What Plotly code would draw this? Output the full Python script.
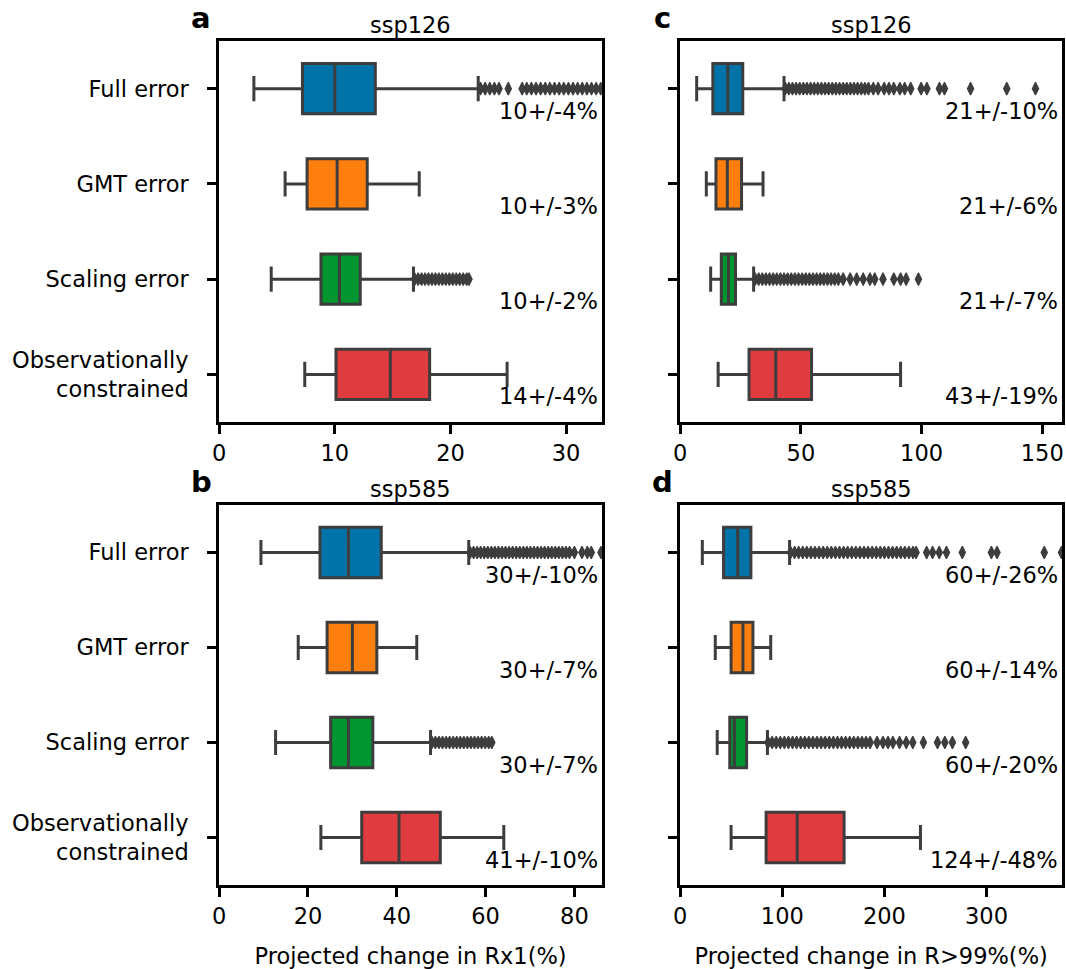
import plotly.graph_objects as go

# ---------------- data ----------------
categories = ["Full error", "GMT error", "Scaling error", "Observationally<br>constrained"]
box_colors = ["#0173a8", "#ff7f0e", "#01962f", "#e03b3e"]

# panel a : ssp126, Rx1
a_low = [3.0, 5.7, 4.5, 7.4]
a_q1 = [7.2, 7.6, 8.8, 10.1]
a_med = [10.0, 10.2, 10.4, 14.8]
a_q3 = [13.5, 12.8, 12.2, 18.2]
a_high = [22.4, 17.3, 16.8, 24.9]
a_labels = ["10+/-4%", "10+/-3%", "10+/-2%", "14+/-4%"]
a_out_full = [22.6, 23.0, 23.4, 23.8, 24.2, 25.0, 26.2, 26.6, 27.0, 27.4, 27.8, 28.2,
              28.6, 29.0, 29.4, 29.8, 30.2, 30.6, 31.0, 31.4, 31.8, 32.2, 32.6, 33.0]
a_out_scal = [16.9, 17.2, 17.5, 17.8, 18.1, 18.4, 18.7, 19.0, 19.3, 19.6, 19.9, 20.2,
              20.5, 20.8, 21.1, 21.4, 21.6]

# panel b : ssp585, Rx1
b_low = [9.4, 17.8, 12.7, 22.9]
b_q1 = [22.7, 24.3, 25.1, 32.1]
b_med = [29.1, 30.0, 29.1, 40.5]
b_q3 = [36.5, 35.5, 34.6, 49.8]
b_high = [56.2, 44.5, 47.6, 64.1]
b_labels = ["30+/-10%", "30+/-7%", "30+/-7%", "41+/-10%"]
b_out_full = [56.5, 57.3, 58.1, 58.9, 59.7, 60.5, 61.3, 62.1, 62.9, 63.7, 64.5, 65.3,
              66.1, 66.9, 67.7, 68.5, 69.3, 70.1, 70.9, 71.7, 72.5, 73.3, 74.1, 74.9,
              75.7, 76.5, 77.3, 78.1, 78.9, 80.0, 81.7, 82.9, 83.8, 86.0]
b_out_scal = [47.9, 48.7, 49.5, 50.3, 51.1, 51.9, 52.7, 53.5, 54.3, 55.1, 55.9, 56.7,
              57.5, 58.3, 59.1, 59.9, 60.7, 61.4]

# panel c : ssp126, R>99%
c_low = [6.8, 10.8, 12.6, 15.7]
c_q1 = [13.5, 14.8, 17.0, 28.5]
c_med = [19.7, 19.5, 20.0, 39.6]
c_q3 = [25.9, 25.4, 22.9, 54.4]
c_high = [43.0, 34.3, 30.4, 91.3]
c_labels = ["21+/-10%", "21+/-6%", "21+/-7%", "43+/-19%"]
c_out_full = [43.5, 45.0, 46.5, 48.0, 49.5, 51.0, 52.5, 54.0, 55.5, 57.0, 58.5, 60.0,
              61.5, 63.0, 64.5, 66.0, 67.5, 69.0, 70.5, 72.0, 73.5, 75.0, 76.5, 78.0,
              80.0, 82.0, 84.5, 86.5, 88.5, 91.0, 93.0, 95.5, 99.8, 102.2, 107.4, 109.5,
              120.3, 135.3, 147.2]
c_out_scal = [31.0, 32.5, 34.0, 35.5, 37.0, 38.5, 40.0, 41.5, 43.0, 44.5, 46.0, 47.5,
              49.0, 50.5, 52.0, 53.5, 55.0, 56.5, 58.0, 59.5, 61.0, 62.5, 64.0, 65.5,
              67.5, 70.4, 73.1, 75.8, 78.6, 80.6, 84.0, 88.5, 91.3, 93.6, 98.7]

# panel d : ssp585, R>99%
d_low = [21.6, 34.3, 36.2, 49.8]
d_q1 = [42.4, 49.8, 48.5, 84.1]
d_med = [56.3, 61.4, 53.0, 114.6]
d_q3 = [69.2, 71.2, 65.0, 160.5]
d_high = [107.1, 88.6, 85.4, 235.3]
d_labels = ["60+/-26%", "60+/-14%", "60+/-20%", "124+/-48%"]
d_out_full = [108, 112, 116, 120, 124, 128, 132, 136, 140, 144, 148, 152, 156, 160,
              164, 168, 172, 176, 180, 184, 188, 192, 196, 200, 204, 208, 212, 216,
              220, 224, 228, 231, 241.4, 247.2, 253.7, 260.8, 276.3, 304.8, 310.3,
              356.6, 373.5]
d_out_scal = [86, 90, 94, 98, 102, 106, 110, 114, 118, 122, 126, 130, 134, 138, 142,
              146, 150, 154, 158, 162, 166, 170, 174, 178, 182, 186, 192.8, 198.6,
              203.5, 208.3, 214.8, 221.4, 227.8, 238.2, 252.0, 259.2, 266.6, 279.6]

panels = [
    dict(ax="", letter="a", title="ssp126", low=a_low, q1=a_q1, med=a_med, q3=a_q3, high=a_high,
         labels=a_labels, out_full=a_out_full, out_scal=a_out_scal, xmax=33.1, ticks=[0, 10, 20, 30],
         xdom=[214, 600], ydom=[41, 422], xtitle=None),
    dict(ax="2", letter="c", title="ssp126", low=c_low, q1=c_q1, med=c_med, q3=c_q3, high=c_high,
         labels=c_labels, out_full=c_out_full, out_scal=c_out_scal, xmax=158.2, ticks=[0, 50, 100, 150],
         xdom=[679, 1064], ydom=[41, 422], xtitle=None),
    dict(ax="3", letter="b", title="ssp585", low=b_low, q1=b_q1, med=b_med, q3=b_q3, high=b_high,
         labels=b_labels, out_full=b_out_full, out_scal=b_out_scal, xmax=86.2, ticks=[0, 20, 40, 60, 80],
         xdom=[214, 600], ydom=[505, 885], xtitle="Projected change in Rx1(%)"),
    dict(ax="4", letter="d", title="ssp585", low=d_low, q1=d_q1, med=d_med, q3=d_q3, high=d_high,
         labels=d_labels, out_full=d_out_full, out_scal=d_out_scal, xmax=374, ticks=[0, 100, 200, 300],
         xdom=[679, 1064], ydom=[505, 885], xtitle="Projected change in R>99%(%)"),
]

W, H = 1066, 969
FONT = "DejaVu Sans"
FS = 22.5
EDGE = "#3d3d3d"

fig = go.Figure()
annotations = []
layout = {}

for p in panels:
    xa = "x" + p["ax"]
    ya = "y" + p["ax"]
    for i, cat in enumerate(categories):
        fig.add_trace(go.Box(
            y=[cat], q1=[p["q1"][i]], median=[p["med"][i]], q3=[p["q3"][i]],
            lowerfence=[p["low"][i]], upperfence=[p["high"][i]],
            orientation="h", xaxis=xa, yaxis=ya, width=0.53, whiskerwidth=0.5,
            fillcolor=box_colors[i], line=dict(color=EDGE, width=3),
            boxpoints=False, showlegend=False, hoverinfo="skip",
        ))
    for cat, vals in [(categories[0], p["out_full"]), (categories[2], p["out_scal"])]:
        fig.add_trace(go.Scatter(
            x=vals, y=[cat] * len(vals), mode="markers", xaxis=xa, yaxis=ya,
            marker=dict(symbol="diamond-tall", size=9, color=EDGE, line=dict(width=1.2, color=EDGE)),
            showlegend=False, hoverinfo="skip",
        ))
    x0, x1 = p["xdom"][0] / W, p["xdom"][1] / W
    y0, y1 = 1 - p["ydom"][1] / H, 1 - p["ydom"][0] / H
    xkey = "xaxis" + p["ax"]
    ykey = "yaxis" + p["ax"]
    layout[xkey] = dict(
        domain=[x0, x1], anchor=ya, range=[0, p["xmax"]], tickvals=p["ticks"],
        showline=True, mirror=True, linecolor="black", linewidth=3,
        ticks="outside", ticklen=9, tickwidth=3, tickcolor="black",
        showgrid=False, zeroline=False,
        tickfont=dict(family=FONT, size=FS, color="black"),
    )
    if p["xtitle"]:
        layout[xkey]["title"] = dict(text=p["xtitle"], font=dict(family=FONT, size=FS, color="black"),
                                     standoff=24)
    layout[ykey] = dict(
        domain=[y0, y1], anchor=xa, type="category", categoryorder="array",
        categoryarray=categories, range=[3.5, -0.5],
        showline=True, mirror=True, linecolor="black", linewidth=3,
        ticks="outside", ticklen=9, tickwidth=3, tickcolor="black",
        showgrid=False, zeroline=False, showticklabels=(p["letter"] in ("a", "b")),
        ticklabelstandoff=14,
        tickfont=dict(family=FONT, size=FS, color="black"),
    )
    for i, cat in enumerate(categories):
        annotations.append(dict(
            x=p["xmax"], y=cat, xref=xa, yref=ya, text=p["labels"][i], showarrow=False,
            xanchor="right", yanchor="middle", xshift=-2, yshift=-22,
            font=dict(family=FONT, size=FS, color="black"),
        ))
    annotations.append(dict(
        x=(x0 + x1) / 2, y=y1, xref="paper", yref="paper", text=p["title"], showarrow=False,
        xanchor="center", yanchor="bottom", yshift=1,
        font=dict(family=FONT, size=FS, color="black"),
    ))
    annotations.append(dict(
        x=x0 - 18 / W, y=y1 + 23 / H, xref="paper", yref="paper", text="<b>" + p["letter"] + "</b>",
        showarrow=False, xanchor="center", yanchor="middle",
        font=dict(family=FONT, size=29, color="black"),
    ))

fig.update_layout(
    width=W, height=H, margin=dict(l=0, r=0, t=0, b=0),
    paper_bgcolor="white", plot_bgcolor="white",
    annotations=annotations, **layout,
)

fig.write_html("out.html")
